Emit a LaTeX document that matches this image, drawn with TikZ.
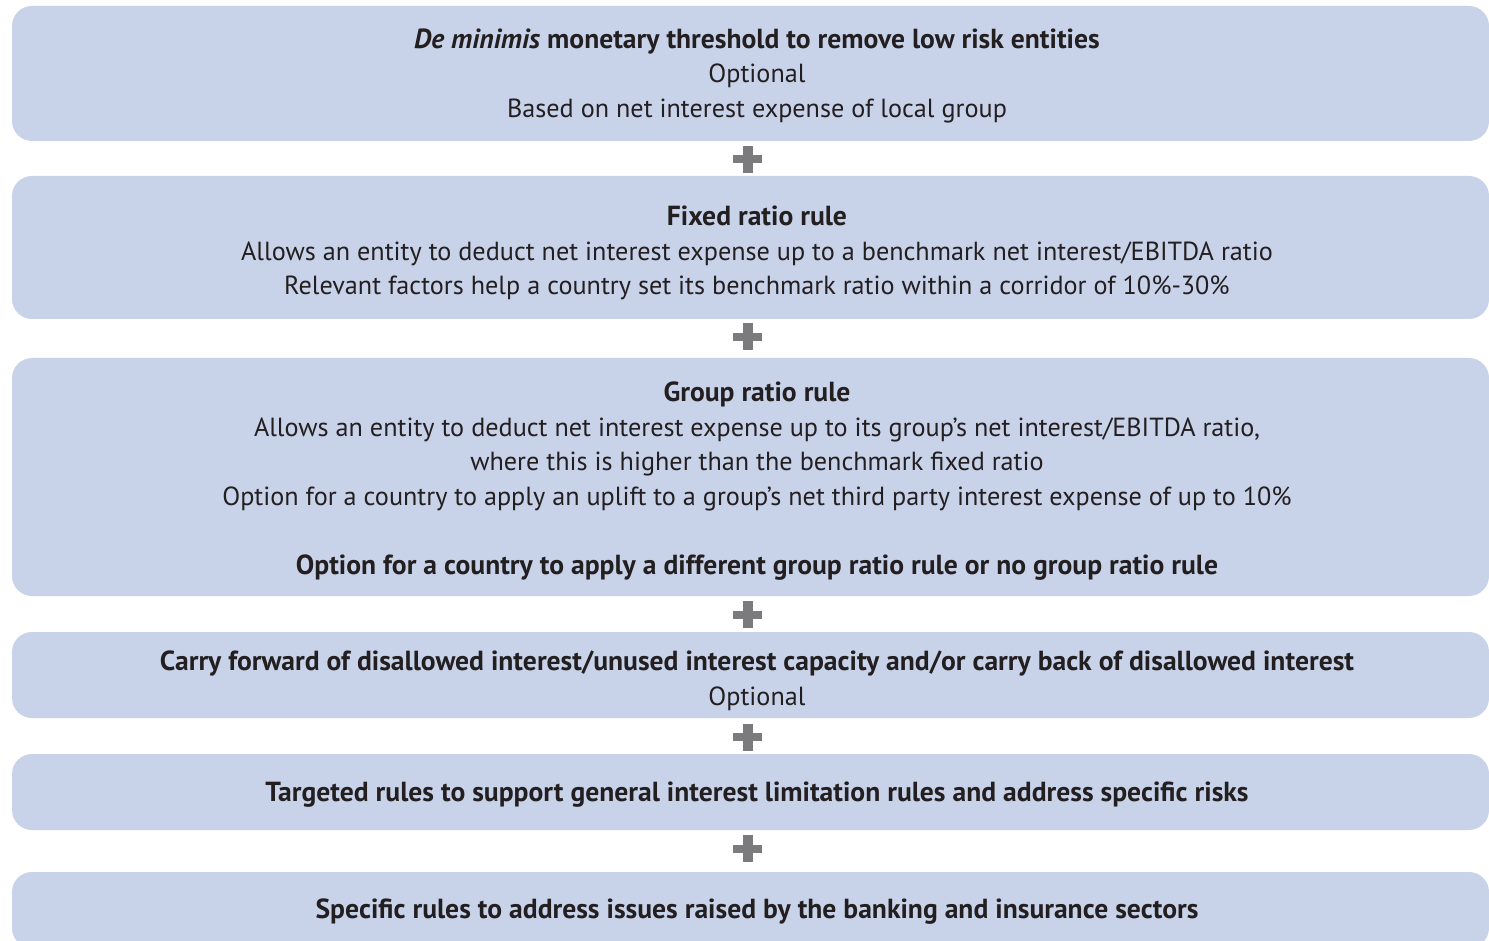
\documentclass[tikz,border=0pt]{standalone}
\usepackage{fontspec}
\setmainfont{PT Sans}
\usetikzlibrary{positioning}
\definecolor{boxblue}{RGB}{200,211,234}
\definecolor{plusgray}{RGB}{123,123,125}
\definecolor{inkdark}{RGB}{35,31,32}
\newcommand{\ruletitle}[1]{{\fontsize{27.6}{34.5}\selectfont\bfseries #1}}
\tikzstyle{rulebox} = [rectangle,rounded corners=20pt,fill=boxblue,inner sep=0pt,minimum width=1477pt]
\tikzstyle{ruletext} = [align=center,text=inkdark,inner sep=0pt,font=\fontsize{26.2}{34.5}\selectfont]
\tikzstyle{plus} = [minimum width=29pt,minimum height=27pt,inner sep=0pt,
  path picture={\fill[plusgray] ([yshift=4pt]path picture bounding box.west) rectangle ([yshift=-4pt]path picture bounding box.east);
                \fill[plusgray] ([xshift=-5pt]path picture bounding box.north) rectangle ([xshift=5pt]path picture bounding box.south);}]

\begin{document}
\begin{tikzpicture}[x=1pt,y=-1pt]
    \useasboundingbox (0,0) rectangle (1489,941);
    \clip (0,0) rectangle (1489,941);
    % boxes
    \node [rulebox,minimum height=135pt] (demin) at (750.5,73.5) {};
    \node [rulebox,minimum height=143pt] (fixed) at (750.5,247.5) {};
    \node [rulebox,minimum height=238pt] (group) at (750.5,477) {};
    \node [rulebox,minimum height=86pt] (carry) at (750.5,675) {};
    \node [rulebox,minimum height=76pt] (target) at (750.5,792) {};
    \node [rulebox,minimum height=76pt] (special) at (750.5,910) {};
    % texts
    \node [ruletext] (demin-t) at (757,75.5) {\ruletitle{\textit{De minimis} monetary threshold to remove low risk entities}\\Optional\\Based on net interest expense of local group};
    \node [ruletext] (fixed-t) at (757,253) {\ruletitle{Fixed ratio rule}\\Allows an entity to deduct net interest expense up to a benchmark net interest/EBITDA ratio\\Relevant factors help a country set its benchmark ratio within a corridor of 10\%-30\%};
    \node [ruletext] (group-t) at (757,481) {\ruletitle{Group ratio rule}\\Allows an entity to deduct net interest expense up to its group’s net interest/EBITDA ratio,\\where this is higher than the benchmark fixed ratio\\Option for a country to apply an uplift to a group’s net third party interest expense of up to 10\%\\[34.5pt]\ruletitle{Option for a country to apply a different group ratio rule or no group ratio rule}};
    \node [ruletext] (carry-t) at (757,681) {\ruletitle{Carry forward of disallowed interest/unused interest capacity and/or carry back of disallowed interest}\\Optional};
    \node [ruletext] (target-t) at (757,795) {\ruletitle{Targeted rules to support general interest limitation rules and address specific risks}};
    \node [ruletext] (special-t) at (757,912) {\ruletitle{Specific rules to address issues raised by the banking and insurance sectors}};
    % plus signs
    \node [plus] (p1) at (747.5,159.5) {};
    \node [plus] (p2) at (747.5,337) {};
    \node [plus] (p3) at (747.5,614.5) {};
    \node [plus] (p4) at (747.5,737) {};
    \node [plus] (p5) at (747.5,848.5) {};
\end{tikzpicture}
\end{document}
